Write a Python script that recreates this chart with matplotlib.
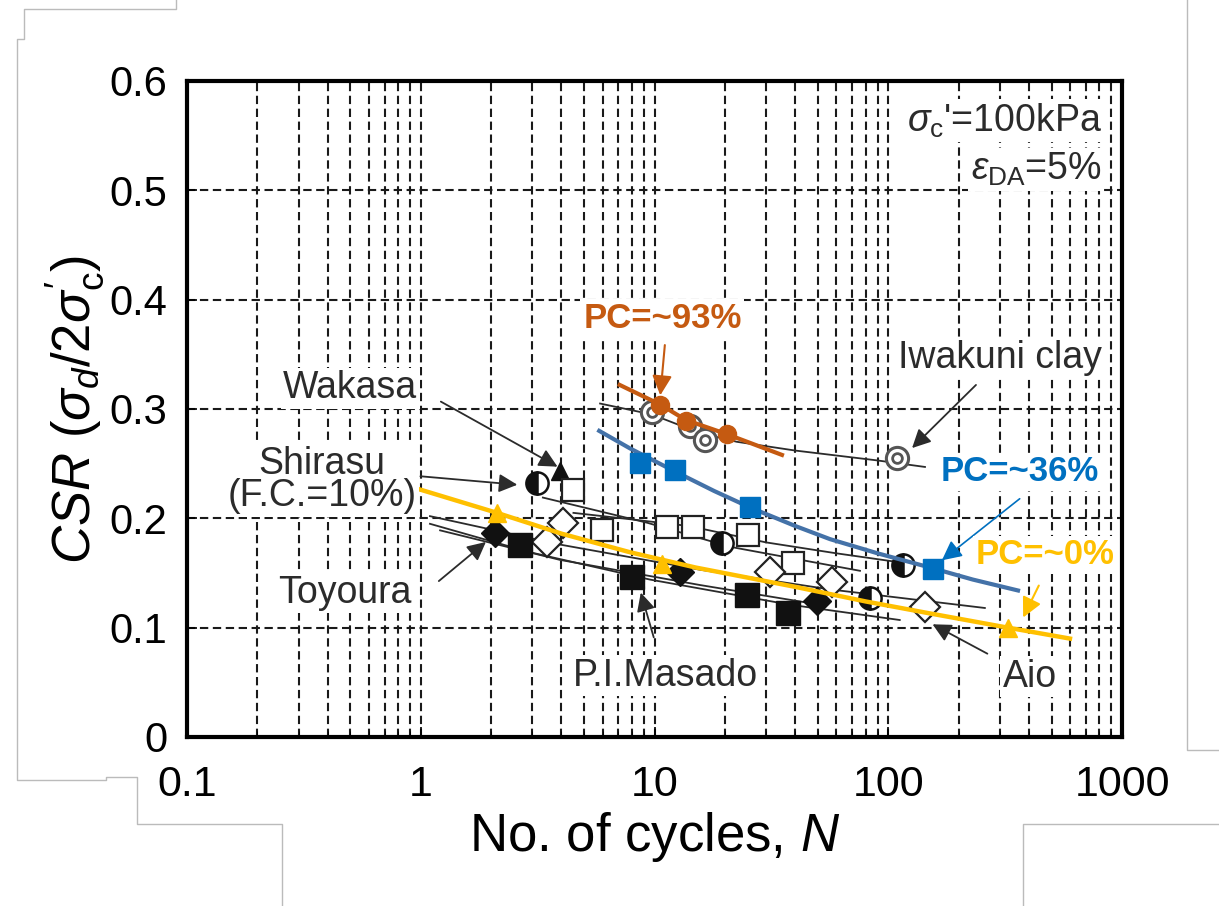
import matplotlib
matplotlib.use("Agg")
import matplotlib.pyplot as plt
from matplotlib.lines import Line2D

plt.rcParams['font.family'] = ['Liberation Sans', 'DejaVu Sans']
plt.rcParams['mathtext.fontset'] = 'custom'
plt.rcParams['mathtext.rm'] = 'Liberation Sans'
plt.rcParams['mathtext.it'] = 'Liberation Sans:italic'

# ---- new test fits (coloured) ----
pc93_N = [10.6, 13.6, 20.4]
pc93_csr = [0.304, 0.289, 0.277]
pc93_fit_N = [7.1, 10.6, 13.6, 20.4, 35.1]
pc93_fit_csr = [0.322, 0.304, 0.290, 0.277, 0.258]

pc36_N = [8.7, 12.2, 25.6, 155]
pc36_csr = [0.251, 0.244, 0.210, 0.154]
pc36_fit_N = [5.8, 7.85, 12.2, 18.0, 25.6, 40.0, 56.3, 90.0, 151, 230, 359]
pc36_fit_csr = [0.280, 0.264, 0.243, 0.225, 0.210, 0.193, 0.181, 0.168, 0.155, 0.144, 0.134]

pc0_N = [2.12, 10.8, 325]
pc0_csr = [0.205, 0.158, 0.100]
pc0_fit_N = [0.97, 2.12, 4.0, 7.85, 15.0, 40.7, 80.0, 151, 325, 599]
pc0_fit_csr = [0.227, 0.205, 0.186, 0.169, 0.155, 0.137, 0.124, 0.113, 0.100, 0.090]

# ---- original literature data (black) ----
iwakuni_N = [9.75, 14.2, 16.4, 109]
iwakuni_csr = [0.297, 0.284, 0.272, 0.255]
iwakuni_fit_N = [5.85, 9.75, 15.65, 22.5, 40.0, 89.5, 143.6]
iwakuni_fit_csr = [0.305, 0.295, 0.278, 0.270, 0.262, 0.253, 0.247]

wakasa_N = [3.94]
wakasa_csr = [0.243]

half_N = [3.14, 19.4, 115.6, 83.6]
half_csr = [0.232, 0.177, 0.157, 0.127]

osq_N = [4.48, 5.96, 11.3, 14.6, 25.1, 39.1]
osq_csr = [0.226, 0.189, 0.192, 0.192, 0.185, 0.159]

odia_N = [4.06, 3.47, 31.2, 57.4, 143.6]
odia_csr = [0.196, 0.178, 0.151, 0.142, 0.119]

fdia_N = [2.08, 12.85, 49.5]
fdia_csr = [0.187, 0.151, 0.124]

fsq_N = [2.66, 8.0, 24.9, 37.2]
fsq_csr = [0.176, 0.146, 0.130, 0.113]

old_fits_N = [
    [3.33, 9.29, 21.0, 75.7],
    [1.095, 3.94, 15.65, 56.3, 259],
    [1.095, 2.93, 9.56, 38.0, 112],
    [1.21, 3.94, 15.65, 51],
    [4.5, 8.0, 14.0, 30.0, 60.0, 110],
]
old_fits_csr = [
    [0.219, 0.196, 0.174, 0.152],
    [0.202, 0.176, 0.153, 0.135, 0.118],
    [0.195, 0.169, 0.144, 0.121, 0.107],
    [0.189, 0.162, 0.139, 0.121],
    [0.205, 0.199, 0.193, 0.178, 0.168, 0.160],
]

orange = '#c55a11'
blue_mk = '#0070c0'
blue_ln = '#4472a8'
yellow = '#ffc000'
ink = '#2b2b2b'

fig = plt.figure(figsize=(12.19, 9.06), dpi=100)

# grey page-edge artefacts of the screenshot
for xs, ys in [([176, 176, 24, 24, 17, 17, 106, 106, 137, 137, 282, 282],
                [0, 9, 9, 39, 39, 780, 780, 777, 777, 824, 824, 906]),
               ([1187, 1187, 1219], [0, 750, 750]),
               ([1023, 1023, 1219], [906, 824, 824])]:
    fig.add_artist(Line2D([x / 1219 for x in xs], [1 - y / 906 for y in ys],
                          color='#bbbbbb', lw=1.0))

ax = fig.add_axes([187 / 1219, 169 / 906, 935 / 1219, 656 / 906])
ax.set_xscale('log')
ax.set_xlim(0.1, 1000)
ax.set_ylim(0, 0.6)
ax.set_yticks([0, 0.1, 0.2, 0.3, 0.4, 0.5, 0.6])
ax.set_yticklabels(['0', '0.1', '0.2', '0.3', '0.4', '0.5', '0.6'])
ax.set_xticks([0.1, 1, 10, 100, 1000])
ax.set_xticklabels(['0.1', '1', '10', '100', '1000'])

dash = (0, (4, 2.2))
ax.grid(True, which='both', axis='x', ls=dash, color='#1a1a1a', lw=1.5)
ax.grid(True, which='major', axis='y', ls=dash, color='#1a1a1a', lw=1.5)
ax.set_axisbelow(True)

for s in ax.spines.values():
    s.set_linewidth(3)
ax.tick_params(axis='both', which='major', direction='in', length=7, width=1.2)
ax.tick_params(axis='x', which='major', pad=20, labelsize=31)
ax.tick_params(axis='y', which='major', pad=14, labelsize=30)
ax.tick_params(axis='x', which='minor', direction='in', length=4)

ax.set_ylabel(r"$CSR\ (\sigma_d/2\sigma^{\prime}_{\mathrm{c}})$", fontsize=38, labelpad=2)
ax.set_xlabel(r"No. of cycles, $N$", fontsize=38, labelpad=4)

# old fits of the literature data
for xs, ys in zip(old_fits_N, old_fits_csr):
    ax.plot(xs, ys, color=ink, lw=1.3, zorder=3)
ax.plot(iwakuni_fit_N, iwakuni_fit_csr, color=ink, lw=1.3, zorder=3)

# literature markers
ax.plot(iwakuni_N, iwakuni_csr, 'o', ms=16, mfc='white', mec='#555555', mew=2.2, zorder=4)
ax.plot(iwakuni_N, iwakuni_csr, 'o', ms=7, mfc='white', mec='#555555', mew=2, zorder=4)
ax.plot(wakasa_N, wakasa_csr, '^', ms=13, color='#111111', zorder=4)
ax.plot(half_N, half_csr, 'o', ms=16, fillstyle='left', mfc='#111111',
        mfcalt='white', mec='#111111', mew=1.8, zorder=4)
ax.plot(osq_N, osq_csr, 's', ms=16, mfc='white', mec='#222222', mew=1.6, zorder=4)
ax.plot(odia_N, odia_csr, 'D', ms=15, mfc='white', mec='#222222', mew=1.6, zorder=4)
ax.plot(fdia_N, fdia_csr, 'D', ms=14, color='#111111', zorder=4)
ax.plot(fsq_N, fsq_csr, 's', ms=17, color='#111111', zorder=4)

# coloured new fits
ax.plot(pc93_fit_N, pc93_fit_csr, color=orange, lw=3, zorder=5)
ax.plot(pc93_N, pc93_csr, 'o', ms=13, color=orange, zorder=6)
ax.plot(pc36_fit_N, pc36_fit_csr, color=blue_ln, lw=3, zorder=5)
ax.plot(pc36_N, pc36_csr, 's', ms=14, color=blue_mk, zorder=6)
ax.plot(pc0_fit_N, pc0_fit_csr, color=yellow, lw=3.2, zorder=5)
ax.plot(pc0_N, pc0_csr, '^', ms=13, color=yellow, zorder=6)

# annotations
lab_box = dict(facecolor='white', edgecolor='none', pad=2)
blk_arrow = dict(arrowstyle='-|>', color=ink, lw=1.3, mutation_scale=28)
black_labels = [
    ('Wakasa', (0.50, 0.319), (3.94, 0.246), (1.19, 0.308)),
    ('Shirasu\n(F.C.=10%)', (0.378, 0.235), (2.66, 0.2305), (0.97, 0.2387)),
    ('Toyoura', (0.474, 0.132), (1.94, 0.180), (1.17, 0.141)),
    ('P.I.Masado', (11.1, 0.056), (8.67, 0.1345), (10.0, 0.0887)),
    ('Aio', (404, 0.055), (151, 0.1043), (272, 0.075)),
    ('Iwakuni clay', (301, 0.347), (124, 0.2625), (242, 0.3238)),
]
for txt, pos, tip, tail in black_labels:
    ax.text(pos[0], pos[1], txt, fontsize=27, color=ink, ha='center', va='center',
            linespacing=0.85, bbox=lab_box, zorder=7)
    ax.annotate('', xy=tip, xytext=tail, arrowprops=blk_arrow, zorder=7)

ax.text(820, 0.564, r"$\sigma_{\rm c}$'=100kPa", fontsize=27, color=ink,
        ha='right', va='center', bbox=lab_box, zorder=7)
ax.text(820, 0.519, r"$\varepsilon_{\rm DA}$=5%", fontsize=27, color=ink,
        ha='right', va='center', bbox=lab_box, zorder=7)

pc_font = dict(fontsize=25, fontweight='bold', ha='center', va='center', zorder=8,
               family=['Liberation Sans Narrow', 'Liberation Sans', 'DejaVu Sans'])
ax.text(10.8, 0.383, 'PC=~93%', color=orange, bbox=lab_box, **pc_font)
ax.annotate('', xy=(10.56, 0.310), xytext=(11.1, 0.361),
            arrowprops=dict(arrowstyle='-|>', color=orange, lw=1.5, mutation_scale=30), zorder=8)
ax.text(366, 0.2424, 'PC=~36%', color=blue_mk, bbox=lab_box, **pc_font)
ax.annotate('', xy=(166, 0.160), xytext=(373, 0.2195),
            arrowprops=dict(arrowstyle='-|>', color=blue_mk, lw=1.2, mutation_scale=30), zorder=8)
ax.text(468, 0.1665, 'PC=~0%', color=yellow, bbox=lab_box, **pc_font)
ax.annotate('', xy=(373, 0.107), xytext=(446, 0.1408),
            arrowprops=dict(arrowstyle='-|>', color=yellow, lw=1.5, mutation_scale=30), zorder=8)

fig.savefig('out.png', dpi=100)
